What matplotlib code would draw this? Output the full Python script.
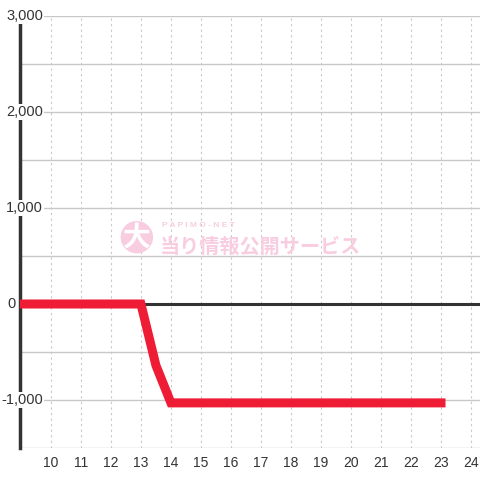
import matplotlib.pyplot as plt
import matplotlib.transforms as mtransforms

# cumulative difference by hour
hours = [9, 10, 11, 12, 13, 13.5, 14, 15, 16, 17, 18, 19, 20, 21, 22, 23]
values = [0, 0, 0, 0, 0, -640, -1030, -1030, -1030, -1030, -1030, -1030, -1030, -1030, -1030, -1030]

yticks = [-1000, 0, 1000, 2000, 3000]
ylabels = ['-1,000', '0', '1,000', '2,000', '3,000']
xticks = list(range(10, 25))

plt.rcParams['font.family'] = ['Liberation Sans', 'DejaVu Sans']

fig = plt.figure(figsize=(4.8, 4.8), dpi=100)
ax = fig.add_axes([20/480, 32/480, 460/480, 432/480])
ax.set_xlim(8.97, 24.3)
ax.set_ylim(-1500, 3000)

# grid
for y in range(-1500, 3001, 500):
    if y != 0:
        ax.axhline(y, color='#c8c8c8', linewidth=1, zorder=1)
for x in xticks:
    ax.axvline(x, color='#c8c8c8', linewidth=0.8, linestyle=(0, (2, 3)), zorder=1)
ax.axhline(0, color='#333333', linewidth=2.2, zorder=2)

for s in ['top', 'right', 'bottom']:
    ax.spines[s].set_visible(False)
ax.spines['left'].set_color('#333333')
ax.spines['left'].set_linewidth(2.5)
ax.spines['left'].set_zorder(2)

# watermark
wm = '#f9cde0'
ax.text(0.254, 0.488, '大', transform=ax.transAxes, fontsize=20, fontweight='bold',
        color='white', ha='center', va='center', family=['Noto Sans CJK JP'], zorder=3,
        bbox=dict(boxstyle='circle,pad=0.08', fc=wm, ec='none'))
ax.text(0.303, 0.468, '当り情報公開サービス', transform=ax.transAxes, fontsize=14.5,
        fontweight='bold', color=wm, ha='left', va='center',
        family=['Noto Sans CJK JP'], zorder=3)
ax.text(0.308, 0.515, 'P A P I M O - N E T', transform=ax.transAxes, fontsize=6,
        fontweight='bold', color=wm, ha='left', va='center', zorder=3)

ax.plot(hours, values, color='#ee1c34', linewidth=6.5, solid_joinstyle='miter',
        solid_capstyle='projecting', zorder=4)

ax.set_yticks([])
trans = mtransforms.blended_transform_factory(fig.transFigure, ax.transData)
for v, lab in zip(yticks, ylabels):
    if v == 0:
        ax.text(16/480, v, lab, transform=trans, ha='right', va='center', fontsize=10.5,
                color='#333333', zorder=5)
    else:
        ax.text(43/480, v, lab, transform=trans, ha='right', va='center', fontsize=10.5,
                color='#333333', zorder=5,
                bbox=dict(boxstyle='square,pad=0.1', fc='white', ec='none'))

ax.set_xticks(xticks)
ax.set_xticklabels([str(x) for x in xticks], fontsize=10, color='#333333')
ax.tick_params(axis='x', length=0, pad=6)

fig.savefig('out.png', dpi=100)
